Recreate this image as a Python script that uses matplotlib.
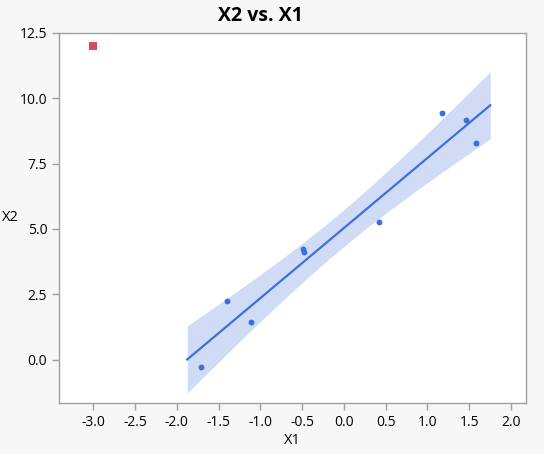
import numpy as np
import matplotlib
matplotlib.use('Agg')
import matplotlib.pyplot as plt

# ------------------------------ Data -----------------------------------

x1 = [-1.71, -1.395, -1.11, -0.49, -0.48, 0.425, 1.176, 1.464, 1.587]
x2 = [-0.29, 2.23, 1.45, 4.22, 4.13, 5.25, 9.43, 9.17, 8.30]

# excluded row (red square)
x1_excl = [-3.0]
x2_excl = [12.0]

xticks = [-3.0, -2.5, -2.0, -1.5, -1.0, -0.5, 0.0, 0.5, 1.0, 1.5, 2.0]
yticks = [0.0, 2.5, 5.0, 7.5, 10.0, 12.5]

# ------------------------------ Linear fit + 95% CI of the mean -----------------------------------

x = np.array(x1)
y = np.array(x2)
n = len(x)
slope, intercept = np.polyfit(x, y, 1)
resid = y - (intercept + slope * x)
s = np.sqrt(np.sum(resid ** 2) / (n - 2))
sxx = np.sum((x - x.mean()) ** 2)
t_crit = 2.365  # t(0.975, df=7)

pad = 0.05 * (x.max() - x.min())
xs = np.linspace(x.min() - pad, x.max() + pad, 200)
fit = intercept + slope * xs
half = t_crit * s * np.sqrt(1 / n + (xs - x.mean()) ** 2 / sxx)

# ------------------------------ Plot -----------------------------------

plt.rcParams['font.family'] = ['Open Sans', 'DejaVu Sans']

fig = plt.figure(figsize=(5.44, 4.54), dpi=100, facecolor='#f7f7f7')
ax = fig.add_axes([59 / 544, 1 - 403 / 454, 467 / 544, 370 / 454])
ax.set_facecolor('white')

ax.fill_between(xs, fit - half, fit + half, color='#d0dcf5', lw=0, zorder=1)
ax.plot(xs, fit, color='#3f6fdc', lw=1.6, zorder=2)
ax.scatter(x1, x2, s=18, color='#3f6fdc', zorder=3, linewidths=0)
ax.scatter(x1_excl, x2_excl, s=30, marker='s', color='#d94a5e', zorder=3, linewidths=0)

ax.set_xlim(-3.41, 2.18)
ax.set_ylim(-1.66, 12.5)
ax.set_xticks(xticks)
ax.set_xticklabels([f'{v:.1f}' for v in xticks])
ax.set_yticks(yticks)
ax.set_yticklabels([f'{v:.1f}' for v in yticks])

for sp in ax.spines.values():
    sp.set_color('#a0a0a0')
    sp.set_linewidth(1.0)
ax.tick_params(colors='#a0a0a0', labelcolor='black', labelsize=10, length=5, width=1)

ax.set_xlabel('X1', fontsize=10.5, labelpad=2)
fig.text(10 / 544, 1 - 218 / 454, 'X2', fontsize=10.5, ha='center', va='center')
fig.text(260 / 544, 1 - 16 / 454, 'X2 vs. X1', fontsize=14, fontweight='bold',
         ha='center', va='center')

fig.savefig('out.png', dpi=100, facecolor=fig.get_facecolor())
